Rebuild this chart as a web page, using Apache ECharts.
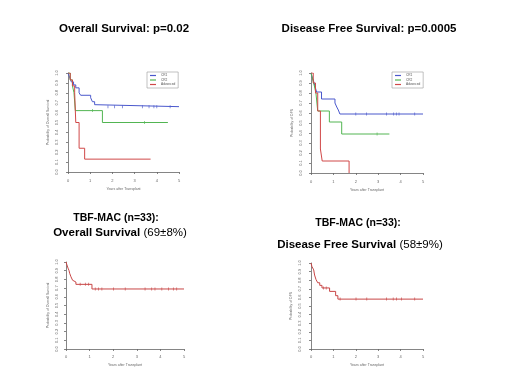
<!DOCTYPE html>
<html>
<head>
<meta charset="utf-8">
<script src="https://cdn.jsdelivr.net/npm/echarts@6/dist/echarts.min.js"></script>
<style>
  html, body { margin: 0; background: #fff; }
  #chart { width: 520px; height: 390px; }
</style>
</head>
<body>
<div id="chart"></div>
<script>
// Kaplan-Meier steps: [years after transplant, survival probability]
const groupNames = ['CR1', 'CR2', 'Advanced'];
const xTicks = [0, 1, 2, 3, 4, 5];
const yTicks = [0, 0.1, 0.2, 0.3, 0.4, 0.5, 0.6, 0.7, 0.8, 0.9, 1];

// Overall survival by disease status
const osCr1 = [[0, 1], [0.05, 0.97], [0.1, 0.94], [0.15, 0.91], [0.25, 0.88], [0.35, 0.85], [0.5, 0.8], [0.57, 0.775], [1.02, 0.75], [1.1, 0.71], [1.2, 0.68], [1.25, 0.66], [5, 0.66]];
const osCr1Censor = [1.8, 2.1, 2.45, 3.35, 3.65, 3.87, 4.0, 4.6];
const osCr2 = [[0, 1], [0.1, 0.93], [0.2, 0.87], [0.27, 0.8], [0.33, 0.62], [1.55, 0.5], [4.5, 0.5]];
const osCr2Censor = [1.1, 3.45];
const osAdv = [[0, 1], [0.1, 0.93], [0.2, 0.87], [0.3, 0.8], [0.35, 0.5], [0.5, 0.24], [0.75, 0.13], [3.72, 0.13]];
const osAdvCensor = [];

// Disease free survival by disease status
const dfsCr1 = [[0, 1], [0.05, 0.96], [0.1, 0.93], [0.15, 0.89], [0.2, 0.85], [0.25, 0.81], [0.47, 0.74], [1.07, 0.7], [1.15, 0.66], [1.22, 0.63], [1.29, 0.59], [5, 0.59]];
const dfsCr1Censor = [2.0, 2.48, 3.37, 3.69, 3.81, 3.93, 4.63];
const dfsCr2 = [[0, 1], [0.08, 0.93], [0.15, 0.87], [0.22, 0.8], [0.3, 0.62], [0.82, 0.51], [1.37, 0.39], [3.5, 0.39]];
const dfsCr2Censor = [2.95];
const dfsAdv = [[0, 1], [0.1, 0.9], [0.2, 0.8], [0.3, 0.62], [0.42, 0.24], [0.5, 0.12], [1.7, 0]];
const dfsAdvCensor = [];

// TBF-MAC, all patients (n=33)
const tbfOs = [[0, 1], [0.04, 0.966], [0.085, 0.93], [0.13, 0.9], [0.155, 0.87], [0.21, 0.83], [0.28, 0.79], [0.35, 0.77], [0.42, 0.743], [1.1, 0.69], [5, 0.69]];
const tbfOsCensor = [0.6, 0.82, 0.96, 1.24, 1.38, 1.52, 2.01, 2.51, 3.35, 3.63, 3.77, 4.06, 4.34, 4.55, 4.69];
const tbfDfs = [[0, 1], [0.04, 0.96], [0.12, 0.92], [0.16, 0.86], [0.22, 0.81], [0.3, 0.77], [0.39, 0.74], [0.49, 0.71], [0.83, 0.67], [1.1, 0.62], [1.2, 0.58], [5, 0.58]];
const tbfDfsCensor = [0.56, 0.68, 1.3, 2.01, 2.49, 3.37, 3.67, 3.82, 4.04, 4.63];

const colors = { CR1: '#4a58cc', CR2: '#52b552', Advanced: '#d04848', All: '#c84646' };

function survAt(curve, t) {
  let s = curve[0][1];
  for (const [x, y] of curve) if (x <= t) s = y;
  return s;
}

const panels = [
  { grid: { left: 68, top: 73, width: 111, height: 99 }, xOff: 5, yOff: 7, yName: 'Probability of Overall Survival',
    legend: { left: 147, top: 72 },
    curves: [['CR1', osCr1, osCr1Censor], ['CR2', osCr2, osCr2Censor], ['Advanced', osAdv, osAdvCensor]] },
  { grid: { left: 311, top: 73, width: 112, height: 100 }, xOff: 5, yOff: 6, yName: 'Probability of DFS',
    legend: { left: 392, top: 72 },
    curves: [['CR1', dfsCr1, dfsCr1Censor], ['CR2', dfsCr2, dfsCr2Censor], ['Advanced', dfsAdv, dfsAdvCensor]] },
  { grid: { left: 66, top: 262, width: 118, height: 87 }, xOff: 4, yOff: 5, yName: 'Probability of Overall Survival',
    curves: [['All', tbfOs, tbfOsCensor]] },
  { grid: { left: 311, top: 263, width: 112, height: 86 }, xOff: 4, yOff: 7, yName: 'Probability of DFS',
    curves: [['All', tbfDfs, tbfDfsCensor]] }
];

const axisGrey = '#666';
const tinyText = { fontSize: 4, color: axisGrey, fontFamily: 'Liberation Sans' };

const series = [];
panels.forEach((p, i) => {
  p.curves.forEach(([name, data, censor]) => {
    const color = colors[name];
    series.push({
      type: 'line', name, xAxisIndex: i, yAxisIndex: i, data, step: 'end',
      showSymbol: false, symbol: 'none', silent: true,
      lineStyle: { color, width: 1 }, itemStyle: { color }
    });
    // censored observations as small ticks on the curve
    series.push({
      type: 'scatter', name: name + ' censored', xAxisIndex: i, yAxisIndex: i,
      data: censor.map(t => [t, survAt(data, t)]),
      symbol: 'rect', symbolSize: [0.8, 3], silent: true,
      itemStyle: { color, opacity: 0.8 }
    });
  });
});

const titleFont = 'bold 11.5px "Liberation Sans", Arial, sans-serif';

const option = {
  animation: false,
  backgroundColor: '#fff',
  grid: panels.map(p => p.grid),
  xAxis: panels.map((p, i) => ({
    gridIndex: i, type: 'value', min: xTicks[0], max: xTicks[xTicks.length - 1], interval: 1,
    offset: p.xOff,
    name: 'Years after Transplant', nameLocation: 'middle', nameGap: 10,
    nameTextStyle: { fontSize: 3.5, color: axisGrey },
    axisLine: { lineStyle: { color: axisGrey, width: 0.8 } },
    axisTick: { length: 2, lineStyle: { color: axisGrey, width: 0.8 } },
    axisLabel: { ...tinyText, margin: 2 },
    splitLine: { show: false }
  })),
  yAxis: panels.map((p, i) => ({
    gridIndex: i, type: 'value', min: yTicks[0], max: yTicks[yTicks.length - 1], interval: 0.1,
    offset: p.yOff,
    name: p.yName, nameLocation: 'middle', nameRotate: 90, nameGap: 11,
    nameTextStyle: { fontSize: 3.5, color: axisGrey },
    axisLine: { lineStyle: { color: axisGrey, width: 0.8 } },
    axisTick: { length: 2, lineStyle: { color: axisGrey, width: 0.8 } },
    axisLabel: { ...tinyText, margin: 2, rotate: 90, formatter: v => v.toFixed(1) },
    splitLine: { show: false }
  })),
  legend: panels.filter(p => p.legend).map(p => ({
    left: p.legend.left, top: p.legend.top, orient: 'vertical',
    data: groupNames, icon: 'rect', itemWidth: 6, itemHeight: 1.2, itemGap: 1.5,
    textStyle: { fontSize: 3.2, color: '#555' },
    padding: [2, 3, 2, 3], borderColor: '#999', borderWidth: 0.6,
    selectedMode: false
  })),
  graphic: [
    { type: 'text', x: 124, y: 29, style: { text: 'Overall Survival: p=0.02', font: titleFont, fill: '#000', textAlign: 'center', textVerticalAlign: 'middle' } },
    { type: 'text', x: 369, y: 29, style: { text: 'Disease Free Survival: p=0.0005', font: titleFont, fill: '#000', textAlign: 'center', textVerticalAlign: 'middle' } },
    { type: 'text', x: 116, y: 218, style: { text: 'TBF-MAC (n=33):', font: 'bold 10.5px "Liberation Sans", Arial, sans-serif', fill: '#000', textAlign: 'center', textVerticalAlign: 'middle' } },
    { type: 'text', x: 120, y: 233, style: {
      text: '{b|Overall Survival} {n|(69±8%)}', textAlign: 'center', textVerticalAlign: 'middle',
      rich: { b: { fontWeight: 'bold', fontSize: 11.5, fontFamily: 'Liberation Sans', fill: '#000' },
              n: { fontSize: 11.5, fontFamily: 'Liberation Sans', fill: '#000' } } } },
    { type: 'text', x: 358, y: 223, style: { text: 'TBF-MAC (n=33):', font: 'bold 10.5px "Liberation Sans", Arial, sans-serif', fill: '#000', textAlign: 'center', textVerticalAlign: 'middle' } },
    { type: 'text', x: 360, y: 245, style: {
      text: '{b|Disease Free Survival} {n|(58±9%)}', textAlign: 'center', textVerticalAlign: 'middle',
      rich: { b: { fontWeight: 'bold', fontSize: 11.5, fontFamily: 'Liberation Sans', fill: '#000' },
              n: { fontSize: 11.5, fontFamily: 'Liberation Sans', fill: '#000' } } } }
  ],
  series
};

const chart = echarts.init(document.getElementById('chart'));
chart.setOption(option);
</script>
</body>
</html>
